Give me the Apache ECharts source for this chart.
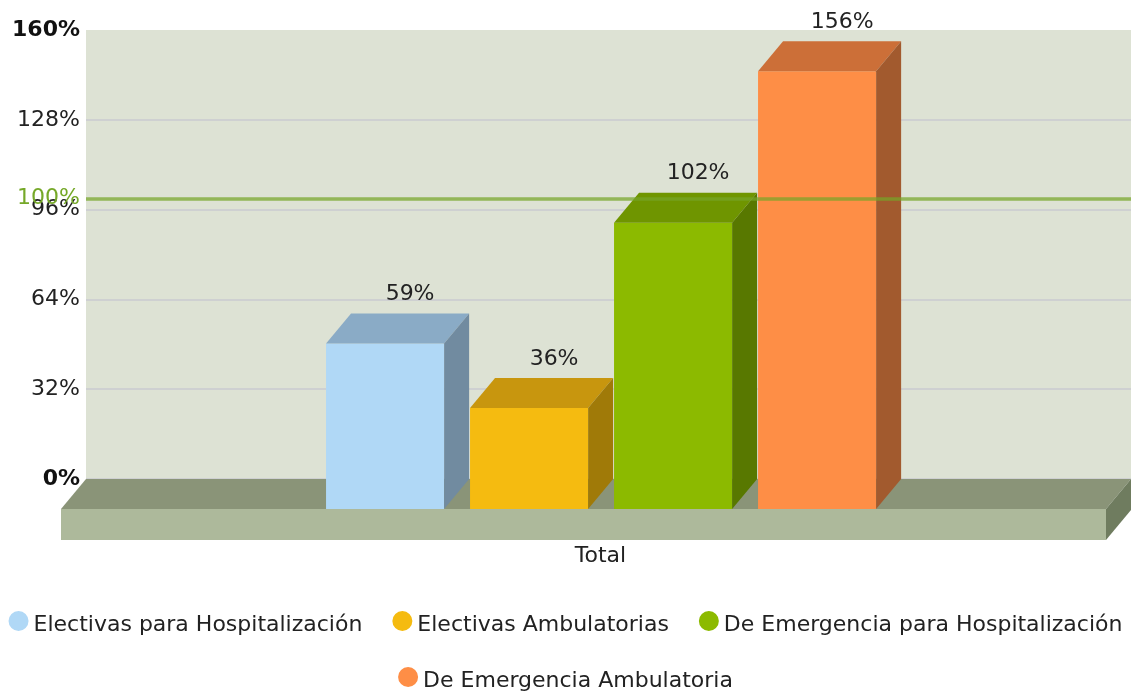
<!DOCTYPE html>
<html>
<head>
<meta charset="utf-8">
<script src="https://cdn.jsdelivr.net/npm/echarts@6/dist/echarts.min.js"></script>
<style>
html,body{margin:0;padding:0;background:#fff;}
#chart{width:1131px;height:691px;}
</style>
</head>
<body>
<div id="chart"></div>
<script>
// ---- data ----
const categories = ['Total'];
const seriesNames = ['Electivas para Hospitalización', 'Electivas Ambulatorias', 'De Emergencia para Hospitalización', 'De Emergencia Ambulatoria'];
const seriesValues = [59, 36, 102, 156];
const targetLine = 100;
const targetLabel = '100%';
const yMin = 0, yMax = 160, yInterval = 32;

// ---- styles ----
const FONT = 'DejaVu Sans';
const FS = 22;
const frontColors = ['#b0d8f6', '#f5bb10', '#8cba00', '#fe8e46'];
const topColors   = ['#8aabc6', '#c8960e', '#6f9500', '#cc6f38'];
const sideColors  = ['#718ba0', '#a07a08', '#587800', '#a25a2e'];
const DX = 25, DY = 30;            // 3D depth in px
const BAR_W = 0.113, STEP = 0.1378, GROUP_OFF = -0.2703; // fractions of band width
// legend marker: circle sitting at the top of a taller icon box
const LEGEND_ICON = 'path://M0,10A10,10 0 1,1 20,10A10,10 0 1,1 0,10ZM10,29L10.001,29';

const chart = echarts.init(document.getElementById('chart'), null, {renderer: 'canvas'});

function barRenderer(i) {
  return function (params, api) {
    const v = api.value(1);
    const base = api.coord([api.value(0), 0]);
    const topPt = api.coord([api.value(0), v]);
    const band = api.size([1, 0])[0];
    const w = band * BAR_W;
    const fl = base[0] + band * (GROUP_OFF + i * STEP);
    const yb = base[1] + DY;
    const yt = topPt[1] + DY;
    return {
      type: 'group',
      children: [
        {type: 'rect', shape: {x: fl, y: yt, width: w, height: yb - yt}, style: {fill: frontColors[i]}},
        {type: 'polygon', shape: {points: [[fl, yt], [fl + w, yt], [fl + w + DX, yt - DY], [fl + DX, yt - DY]]}, style: {fill: topColors[i]}},
        {type: 'polygon', shape: {points: [[fl + w, yt], [fl + w + DX, yt - DY], [fl + w + DX, yb - DY], [fl + w, yb]]}, style: {fill: sideColors[i]}},
        {type: 'text', style: {text: v + '%', x: fl + DX + w / 2, y: topPt[1] - 8, align: 'center', verticalAlign: 'bottom', fontSize: FS, fontFamily: FONT, fill: '#222'}}
      ]
    };
  };
}

function floorRenderer(params, api) {
  const cs = params.coordSys;
  const y0 = api.coord([0, 0])[1];
  const gx = cs.x, gr = cs.x + cs.width;
  const T = 31;
  return {
    type: 'group',
    children: [
      {type: 'polygon', shape: {points: [[gx - DX, y0 + DY], [gr - DX, y0 + DY], [gr, y0], [gx, y0]]}, style: {fill: '#8a9478'}},
      {type: 'rect', shape: {x: gx - DX, y: y0 + DY, width: cs.width, height: T}, style: {fill: '#adb99b'}},
      {type: 'polygon', shape: {points: [[gr - DX, y0 + DY], [gr, y0], [gr, y0 + T], [gr - DX, y0 + DY + T]]}, style: {fill: '#6f7c5f'}}
    ]
  };
}

const series = [
  {type: 'custom', name: '__floor', renderItem: floorRenderer, data: [[0, 0]], z: 1, silent: true}
];
seriesNames.forEach(function (name, i) {
  series.push({
    type: 'custom', name: name, renderItem: barRenderer(i),
    data: [[0, seriesValues[i]]], z: 2,
    itemStyle: {color: frontColors[i], borderWidth: 0}
  });
});
series.push({
  type: 'line', name: '__target', data: [], z: 10, silent: true,
  markLine: {
    silent: true, symbol: 'none',
    lineStyle: {color: 'rgba(118,165,40,0.72)', width: 3.5, type: 'solid'},
    label: {show: true, position: 'start', formatter: targetLabel, color: '#75a828', fontSize: FS, fontFamily: FONT, distance: 6},
    data: [{yAxis: targetLine}]
  }
});

const legendCommon = {
  orient: 'horizontal', left: 'center', icon: LEGEND_ICON,
  itemWidth: 20, itemHeight: 29, itemGap: 30,
  itemStyle: {borderWidth: 0},
  textStyle: {fontSize: FS, fontFamily: FONT, color: '#222'}
};

chart.setOption({
  animation: false,
  backgroundColor: '#ffffff',
  grid: {left: 86, right: 0, top: 30, bottom: 212, show: true, backgroundColor: '#dde2d4', borderWidth: 0},
  xAxis: {
    type: 'category', data: categories,
    axisLine: {show: false}, axisTick: {show: false}, splitLine: {show: false},
    axisLabel: {margin: 66, fontSize: FS, fontFamily: FONT, color: '#222', padding: [0, 16, 0, 0]}
  },
  yAxis: {
    type: 'value', min: yMin, max: yMax, interval: yInterval,
    axisLine: {show: false}, axisTick: {show: false},
    splitLine: {lineStyle: {color: ['#c9cad1', '#c9cad1', '#c9cad1', '#c9cad1', '#c9cad1', 'rgba(0,0,0,0)'], width: 1.5}},
    axisLabel: {
      margin: 6, fontSize: FS, fontFamily: FONT, color: '#222',
      formatter: function (v) {
        return (v === yMin || v === yMax) ? '{b|' + v + '%}' : v + '%';
      },
      rich: {b: {fontWeight: 'bold', fontSize: FS, fontFamily: FONT, color: '#111'}}
    }
  },
  legend: [
    Object.assign({}, legendCommon, {top: 606, data: seriesNames.slice(0, 3)}),
    Object.assign({}, legendCommon, {top: 662, data: seriesNames.slice(3)})
  ],
  series: series
});
</script>
</body>
</html>
